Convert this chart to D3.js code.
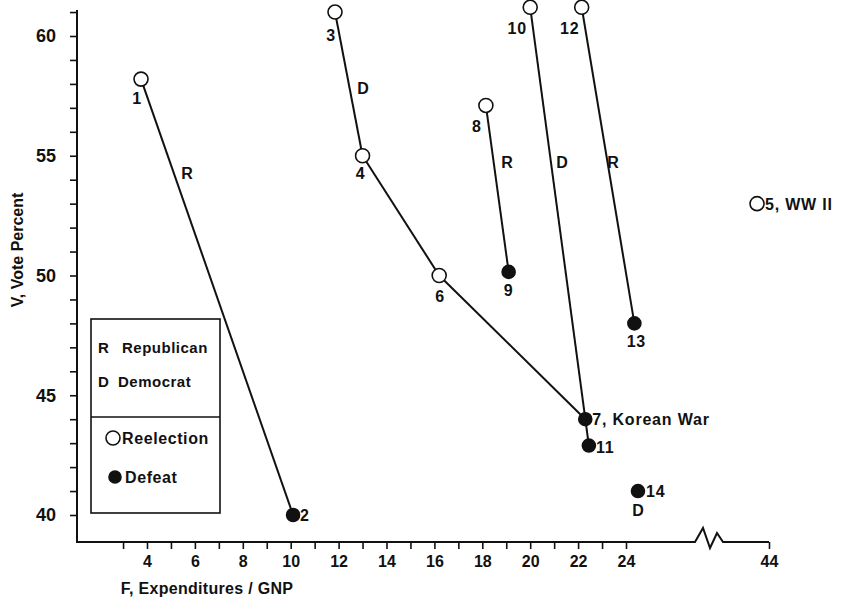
<!DOCTYPE html>
<html>
<head>
<meta charset="utf-8">
<script src="https://cdn.jsdelivr.net/npm/d3@7"></script>
<style>
  body { margin: 0; background: #fff; }
  text { font-family: "Liberation Sans", Arial, sans-serif; font-weight: bold; fill: #111; }
</style>
</head>
<body>
<svg id="chart" width="844" height="602"></svg>
<script>
// election number, F = expenditures / GNP, V = vote percent
const elections = ["1", "2", "3", "4", "5", "6", "7", "8", "9", "10", "11", "12", "13", "14"];
const expend = [3.75, 10.1, 11.85, 13.0, 43.5, 16.2, 22.3, 18.15, 19.1, 20.0, 22.45, 22.15, 24.35, 24.5];
const vote = [58.2, 40.0, 61.0, 55.0, 53.0, 50.0, 44.0, 57.1, 50.15, 61.2, 42.9, 61.2, 48.0, 41.0];
const reelected = [true, false, true, true, true, true, false, true, false, true, false, true, false, false];
const notes = { "5": ", WW II", "7": ", Korean War" };

// connected terms
const links = [["1", "2"], ["3", "4"], ["4", "6"], ["6", "7"], ["8", "9"], ["10", "11"], ["12", "13"]];

// party letters, placed in data units
const partyLetter = ["R", "D", "R", "D", "R", "D"];
const partyF = [5.67, 13.02, 19.03, 21.33, 23.46, 24.5];
const partyV = [54.28, 57.83, 54.74, 54.74, 54.74, 40.2];

const yTicks = d3.range(40, 62);
const xTicks = d3.range(3, 25);
const legendLetter = ["R", "D"];
const legendParty = ["Republican", "Democrat"];
const legendOutcome = ["Reelection", "Defeat"];

const svg = d3.select("#chart");

const x = d3.scaleLinear().domain([4, 24]).range([147, 626]);
const xFar = d3.scaleLinear().domain([40, 44]).range([673.2, 769]);
const fx = (f) => (f > 30 ? xFar(f) : x(f));
const y = d3.scaleLinear().domain([40, 60]).range([515, 36]);

const pts = elections.map((e, i) => ({
  id: e, f: expend[i], v: vote[i], won: reelected[i]
}));
const byId = {};
pts.forEach((p) => (byId[p.id] = p));

// axes
const axisX0 = 77, axisY0 = 542;

const yAxis = svg.append("g")
  .attr("transform", `translate(${axisX0},0)`)
  .call(d3.axisLeft(y).tickValues(yTicks).tickSize(7).tickPadding(14)
    .tickFormat((d) => (d % 5 === 0 ? d : "")));
yAxis.select(".domain").remove();
yAxis.selectAll("text").style("font-size", "18px").attr("font-family", null);

const xAxis = svg.append("g")
  .attr("transform", `translate(0,${axisY0})`)
  .call(d3.axisBottom(x).tickValues(xTicks).tickSize(7).tickPadding(7)
    .tickFormat((d) => (d % 2 === 0 ? d : "")));
xAxis.select(".domain").remove();

const xAxisFar = svg.append("g")
  .attr("transform", `translate(0,${axisY0})`)
  .call(d3.axisBottom(xFar).tickValues([44]).tickSize(7).tickPadding(7)
    .tickFormat(d3.format("d")));
xAxisFar.select(".domain").remove();

svg.selectAll(".tick line").attr("stroke", "#111").attr("stroke-width", 1.6);
xAxis.selectAll("text").style("font-size", "16px").attr("font-family", null);
xAxisFar.selectAll("text").style("font-size", "16px").attr("font-family", null);

// axis lines with the break
svg.append("path")
  .attr("d", `M${axisX0},10 V${axisY0} H695 L703,528 L710,548 L717,533 L723,${axisY0} H769`)
  .attr("fill", "none").attr("stroke", "#111").attr("stroke-width", 2);

// axis titles
svg.append("text")
  .attr("x", 207).attr("y", 594)
  .attr("text-anchor", "middle")
  .style("font-size", "16px")
  .style("letter-spacing", "0.3px")
  .text("F, Expenditures / GNP");

svg.append("text")
  .attr("transform", "translate(23,250) rotate(-90)")
  .attr("text-anchor", "middle")
  .style("font-size", "16px")
  .text("V, Vote Percent");

// connecting lines
svg.append("g").selectAll("line")
  .data(links)
  .join("line")
  .attr("x1", (d) => fx(byId[d[0]].f)).attr("y1", (d) => y(byId[d[0]].v))
  .attr("x2", (d) => fx(byId[d[1]].f)).attr("y2", (d) => y(byId[d[1]].v))
  .attr("stroke", "#111").attr("stroke-width", 2);

// points
svg.append("g").selectAll("circle")
  .data(pts)
  .join("circle")
  .attr("cx", (d) => fx(d.f)).attr("cy", (d) => y(d.v))
  .attr("r", (d) => (d.won ? 7 : 6.5))
  .attr("fill", (d) => (d.won ? "#fff" : "#111"))
  .attr("stroke", "#111").attr("stroke-width", 1.6);

// point labels
const labelPos = {
  "1": [-4, 25, "middle"], "2": [7, 6, "start"], "3": [-4, 29, "middle"],
  "4": [-2, 23, "middle"], "5": [8, 6, "start"], "6": [1, 26, "middle"],
  "7": [7, 6, "start"], "8": [-9, 27, "middle"], "9": [0, 24, "middle"],
  "10": [-13, 27, "middle"], "11": [7, 7, "start"], "12": [-12, 27, "middle"],
  "13": [2, 24, "middle"], "14": [8, 6, "start"]
};

svg.append("g").selectAll("text")
  .data(pts)
  .join("text")
  .attr("x", (d) => fx(d.f) + labelPos[d.id][0])
  .attr("y", (d) => y(d.v) + labelPos[d.id][1])
  .attr("text-anchor", (d) => labelPos[d.id][2])
  .style("font-size", "16px")
  .style("letter-spacing", "0.8px")
  .text((d) => d.id + (notes[d.id] || ""));

// party letters
svg.append("g").selectAll("text")
  .data(partyLetter)
  .join("text")
  .attr("x", (d, i) => fx(partyF[i]))
  .attr("y", (d, i) => y(partyV[i]))
  .attr("text-anchor", "middle")
  .attr("dy", "0.35em")
  .style("font-size", "16px")
  .text((d) => d);

// legend
const lg = svg.append("g");
lg.append("rect")
  .attr("x", 91).attr("y", 319).attr("width", 129).attr("height", 194)
  .attr("fill", "#fff").attr("stroke", "#111").attr("stroke-width", 1.6);
lg.append("line")
  .attr("x1", 91).attr("x2", 220).attr("y1", 417).attr("y2", 417)
  .attr("stroke", "#111").attr("stroke-width", 1.6);

lg.selectAll(".letter")
  .data(legendLetter)
  .join("text")
  .attr("class", "letter")
  .attr("x", 98)
  .attr("y", (d, i) => 348 + i * 34)
  .attr("dy", "0.35em")
  .style("font-size", "15px")
  .text((d) => d);

lg.selectAll(".party")
  .data(legendParty)
  .join("text")
  .attr("class", "party")
  .attr("x", (d, i) => (i === 0 ? 122 : 118))
  .attr("y", (d, i) => 348 + i * 34)
  .attr("dy", "0.35em")
  .style("font-size", "15px")
  .style("letter-spacing", "0.5px")
  .text((d) => d);

lg.selectAll(".outcome-mark")
  .data(legendOutcome)
  .join("circle")
  .attr("class", "outcome-mark")
  .attr("cx", (d, i) => (i === 0 ? 113 : 115))
  .attr("cy", (d, i) => 438 + i * 39)
  .attr("r", (d, i) => (i === 0 ? 7 : 6))
  .attr("fill", (d, i) => (i === 0 ? "#fff" : "#111"))
  .attr("stroke", "#111").attr("stroke-width", 1.6);

lg.selectAll(".outcome")
  .data(legendOutcome)
  .join("text")
  .attr("class", "outcome")
  .attr("x", (d, i) => (i === 0 ? 122 : 125))
  .attr("y", (d, i) => 438 + i * 39)
  .attr("dy", "0.35em")
  .style("font-size", "16px")
  .style("letter-spacing", "0.6px")
  .text((d) => d);
</script>
</body>
</html>
